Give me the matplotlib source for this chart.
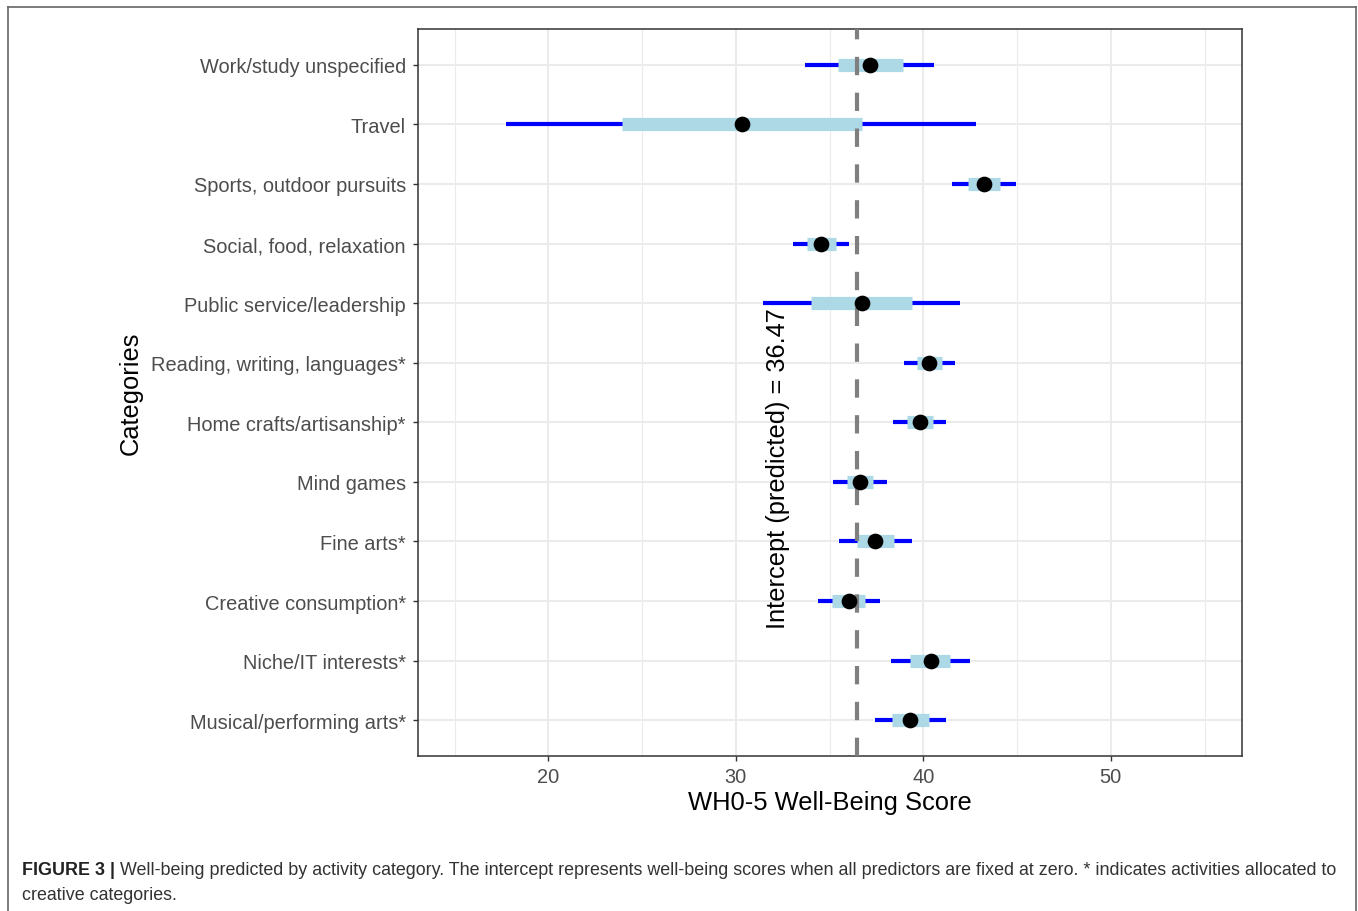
import matplotlib

matplotlib.use("Agg")
import matplotlib.pyplot as plt
import numpy as np
from matplotlib.lines import Line2D
from matplotlib.text import Annotation

plt.rcParams["font.family"] = ["Liberation Sans", "DejaVu Sans"]

# categories listed top to bottom as they appear in the figure
CATEGORIES = [
    "Work/study unspecified",
    "Travel",
    "Sports, outdoor pursuits",
    "Social, food, relaxation",
    "Public service/leadership",
    "Reading, writing, languages*",
    "Home crafts/artisanship*",
    "Mind games",
    "Fine arts*",
    "Creative consumption*",
    "Niche/IT interests*",
    "Musical/performing arts*",
]
ESTIMATE = [37.16, 30.31, 43.26, 34.56, 36.71, 40.31, 39.80, 36.60, 37.45, 36.03, 40.39, 39.29]
# outer interval (blue line)
OUTER_LO = [33.71, 17.73, 41.55, 33.06, 31.47, 38.97, 38.41, 35.18, 35.49, 34.36, 38.30, 37.42]
OUTER_HI = [40.59, 42.83, 44.93, 36.03, 41.98, 41.70, 41.21, 38.04, 39.40, 37.70, 42.49, 41.21]
# inner interval (light blue band)
INNER_LO = [35.44, 23.91, 42.37, 33.79, 34.02, 39.65, 39.12, 35.91, 36.46, 35.15, 39.31, 38.32]
INNER_HI = [38.92, 36.71, 44.10, 35.32, 39.40, 40.99, 40.51, 37.34, 38.44, 36.91, 41.44, 40.28]
INTERCEPT = 36.47
X_MAJOR = [20, 30, 40, 50]
X_MINOR = [15, 25, 35, 45, 55]

W, H = 1358, 912
fig = plt.figure(figsize=(W / 100, H / 100), dpi=100)
ax = fig.add_axes([418 / W, 1 - 757 / H, (1242 - 418) / W, (757 - 30) / H])

ypos = np.arange(len(CATEGORIES))[::-1]

# grid (ggplot theme_bw look)
for v in X_MINOR:
    ax.axvline(v, color="#EBEBEB", lw=0.8, zorder=0)
for v in X_MAJOR:
    ax.axvline(v, color="#EBEBEB", lw=1.5, zorder=0)
for y in ypos:
    ax.axhline(y, color="#EBEBEB", lw=1.5, zorder=0)

ax.hlines(ypos, OUTER_LO, OUTER_HI, color="#0000FF", lw=3.0, zorder=2)
ax.hlines(ypos, INNER_LO, INNER_HI, color="#ADD8E6", lw=9.5, zorder=3)
ax.axvline(INTERCEPT, color="#7F7F7F", lw=3.0, dashes=(4.4, 4.2), zorder=4)
ax.plot(ESTIMATE, ypos, "o", color="black", ms=10.3, zorder=5)

ax.text(32.25, 4.24, f"Intercept (predicted) = {INTERCEPT:.2f}", rotation=90,
        ha="center", va="center", fontsize=18.3, color="black", zorder=6)

ax.set_xlim(13.05, 57.0)
ax.set_ylim(-0.6, len(CATEGORIES) - 0.4)
ax.set_xticks(X_MAJOR)
ax.set_yticks(ypos, CATEGORIES)
ax.tick_params(length=3.6, width=1.0, color="#333333", labelcolor="#4D4D4D",
               labelsize=14.4)
ax.tick_params(axis="y", pad=5.2)
ax.tick_params(axis="x", pad=4.5)
for s in ax.spines.values():
    s.set_color("#333333")
    s.set_linewidth(1.1)

fig.text(830 / W, 1 - 803 / H, "WH0-5 Well-Being Score", ha="center", va="center",
         fontsize=18.4, color="black")
fig.text(131 / W, 1 - 393 / H, "Categories", ha="center", va="center",
         rotation=90, fontsize=18.4, color="black")

# caption: bold figure number followed by the regular text
CAPTION = ("Well-being predicted by activity category. The intercept represents well-being "
           "scores when all predictors are fixed at zero. * indicates activities allocated to")
bold = fig.text(22 / W, 1 - 879 / H, "FIGURE 3 |", fontsize=12.9, fontweight="bold",
                color="#222222", va="bottom", ha="left")
fig.add_artist(Annotation(" " + CAPTION, xy=(1, 0), xycoords=bold, fontsize=12.9,
                          color="#333333", va="bottom", ha="left"))
fig.text(22 / W, 1 - 904 / H, "creative categories.", fontsize=12.9, color="#333333",
         va="bottom", ha="left")

# outer frame around the figure (no bottom edge)
frame_kw = dict(color="#666666", lw=1.2, transform=fig.transFigure)
fig.add_artist(Line2D([8 / W, 8 / W], [0, 1 - 8 / H], **frame_kw))
fig.add_artist(Line2D([8 / W, 1356 / W], [1 - 8 / H, 1 - 8 / H], **frame_kw))
fig.add_artist(Line2D([1356 / W, 1356 / W], [0, 1 - 8 / H], **frame_kw))

fig.savefig("out.png", dpi=100)
